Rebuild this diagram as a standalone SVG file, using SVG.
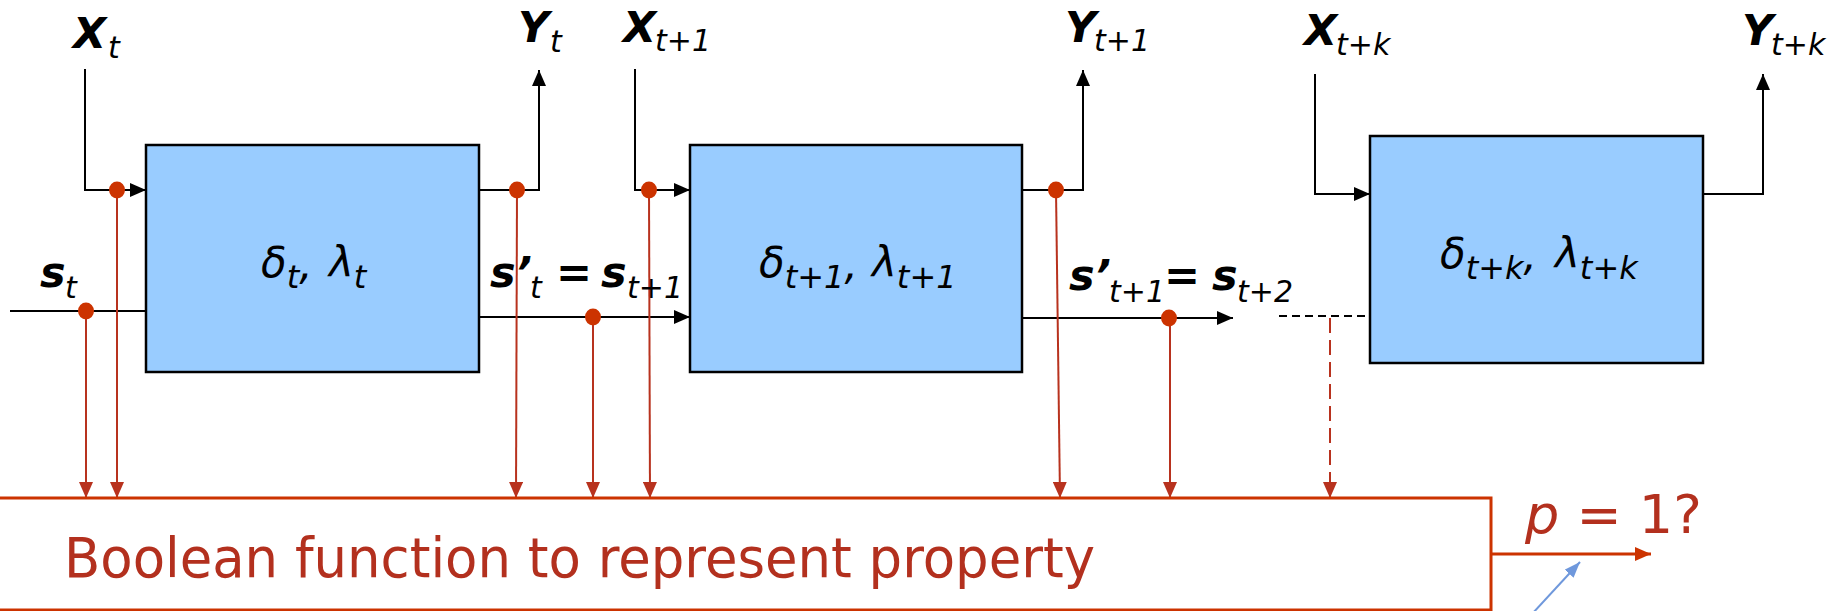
<svg xmlns="http://www.w3.org/2000/svg" width="1827" height="611" viewBox="0 0 1827 611">
<style>
.box{fill:#99CCFF;stroke:#000;stroke-width:2.5}
.bl{stroke:#000;stroke-width:2;fill:none}
.rl{stroke:#B8321E;stroke-width:2;fill:none}
.dot{fill:#CC3300}
.lab{font-family:"DejaVu Sans",Verdana,sans-serif;fill:#000}
.b{font-weight:bold;font-style:italic;font-size:43px}
.s{font-weight:normal;font-style:italic;font-size:30px}
.bt{font-style:italic;font-size:42px}
.bs{font-style:italic;font-size:32px}
.red{font-family:"DejaVu Sans",Verdana,sans-serif;fill:#B3301E}
</style>
<defs>
<marker id="ab" markerWidth="16" markerHeight="14" refX="16" refY="7" orient="auto" markerUnits="userSpaceOnUse"><path d="M0,0 L16,7 L0,14 z" fill="#000"/></marker>
<marker id="ar" markerWidth="16" markerHeight="14" refX="16" refY="7" orient="auto" markerUnits="userSpaceOnUse"><path d="M0,0 L16,7 L0,14 z" fill="#B8321E"/></marker>
<marker id="ao" markerWidth="16" markerHeight="14" refX="16" refY="7" orient="auto" markerUnits="userSpaceOnUse"><path d="M0,0 L16,7 L0,14 z" fill="#CC3300"/></marker>
<marker id="abl" markerWidth="16" markerHeight="12" refX="16" refY="6" orient="auto" markerUnits="userSpaceOnUse"><path d="M0,0 L16,6 L0,12 z" fill="#6F98DC"/></marker>
</defs>

<g id="connectors">
<path class="bl" d="M85,69 V190 H146" marker-end="url(#ab)"/>
<path class="bl" d="M479,190 H539 V70" marker-end="url(#ab)"/>
<path class="bl" d="M10,311 H146"/>
<path class="bl" d="M479,317 H690" marker-end="url(#ab)"/>
<path class="bl" d="M635,69 V190 H690" marker-end="url(#ab)"/>
<path class="bl" d="M1022,190 H1083 V70" marker-end="url(#ab)"/>
<path class="bl" d="M1022,318 H1233" marker-end="url(#ab)"/>
<path class="bl" d="M1279,316 H1370" stroke-dasharray="8,5"/>
<path class="bl" d="M1315,74 V194 H1370" marker-end="url(#ab)"/>
<path class="bl" d="M1703,194 H1763 V74" marker-end="url(#ab)"/>
<path class="rl" d="M86,311 V498" marker-end="url(#ar)"/>
<path class="rl" d="M117,190 V498" marker-end="url(#ar)"/>
<path class="rl" d="M517,190 L516,498" marker-end="url(#ar)"/>
<path class="rl" d="M593,317 V498" marker-end="url(#ar)"/>
<path class="rl" d="M649,190 L650,498" marker-end="url(#ar)"/>
<path class="rl" d="M1056,190 L1060,498" marker-end="url(#ar)"/>
<path class="rl" d="M1170,318 V498" marker-end="url(#ar)"/>
<path class="rl" d="M1330,318 V498" stroke-dasharray="15,7" marker-end="url(#ar)"/>
<path d="M1491,554 H1651" stroke="#CC3300" stroke-width="3" fill="none" marker-end="url(#ao)"/>
<path d="M1532,614 L1580,562" stroke="#6F98DC" stroke-width="2" fill="none" marker-end="url(#abl)"/>
<ellipse class="dot" cx="117" cy="190" rx="8" ry="8.5"/>
<ellipse class="dot" cx="86" cy="311" rx="8" ry="8.5"/>
<ellipse class="dot" cx="517" cy="190" rx="8" ry="8.5"/>
<ellipse class="dot" cx="593" cy="317" rx="8" ry="8.5"/>
<ellipse class="dot" cx="649" cy="190" rx="8" ry="8.5"/>
<ellipse class="dot" cx="1056" cy="190" rx="8" ry="8.5"/>
<ellipse class="dot" cx="1169" cy="318" rx="8" ry="8.5"/>
</g>

<g id="box1">
<rect class="box" x="146" y="145" width="333" height="227"/>
<text class="lab bt" x="261" y="277">δ<tspan class="bs" dy="11">t</tspan><tspan dy="-9">,</tspan><tspan dy="-2" x="329">λ</tspan><tspan class="bs" dy="11">t</tspan></text>
</g>
<g id="box2">
<rect class="box" x="690" y="145" width="332" height="227"/>
<text class="lab bt" x="759" y="277">δ<tspan class="bs" dy="11">t+1</tspan><tspan dy="-9">,</tspan><tspan dy="-2" x="872">λ</tspan><tspan class="bs" dy="11">t+1</tspan></text>
</g>
<g id="box3">
<rect class="box" x="1370" y="136" width="333" height="227"/>
<text class="lab bt" x="1440" y="268">δ<tspan class="bs" dy="11">t+k</tspan><tspan dy="-9">,</tspan><tspan dy="-2" x="1555">λ</tspan><tspan class="bs" dy="11">t+k</tspan></text>
</g>
<g id="property">
<rect x="-3" y="498" width="1494" height="112" fill="#fff" stroke="#CC3300" stroke-width="3"/>
<text class="red" x="64" y="577" font-size="55" textLength="1031" lengthAdjust="spacingAndGlyphs">Boolean function to represent property</text>
<text class="red" x="1525" y="533" font-size="54"><tspan font-style="italic">p</tspan> = 1?</text>
</g>

<g id="labels">
<text class="lab b" x="73" y="48">X<tspan class="s" x="108" dy="10">t</tspan></text>
<text class="lab b" x="518" y="42">Y<tspan class="s" x="550" dy="10">t</tspan></text>
<text class="lab b" x="623" y="42">X<tspan class="s" x="655" dy="9">t+1</tspan></text>
<text class="lab b" x="1065" y="42">Y<tspan class="s" x="1094" dy="9">t+1</tspan></text>
<text class="lab b" x="1304" y="45">X<tspan class="s" x="1336" dy="10">t+k</tspan></text>
<text class="lab b" x="1742" y="45">Y<tspan class="s" x="1771" dy="10">t+k</tspan></text>
<text class="lab b" x="40" y="287">s<tspan class="s" x="65" dy="11">t</tspan></text>
<text class="lab b" x="490" y="287">s’<tspan class="s" x="530" dy="11">t</tspan><tspan x="556" dy="-11">=</tspan><tspan x="601">s</tspan><tspan class="s" x="627" dy="11">t+1</tspan></text>
<text class="lab b" x="1069" y="290">s’<tspan class="s" x="1109" dy="12">t+1</tspan><tspan x="1164" dy="-12">=</tspan><tspan x="1212">s</tspan><tspan class="s" x="1237" dy="12">t+2</tspan></text>
</g>
</svg>
